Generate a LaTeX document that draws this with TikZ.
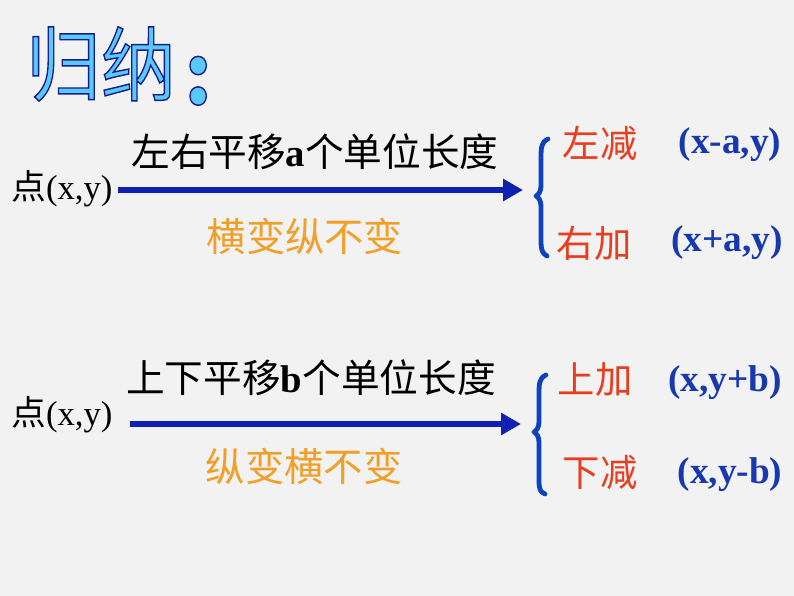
\documentclass[tikz,border=0pt]{standalone}
\usepackage{fontspec}
\setmainfont{Liberation Serif}
\newfontfamily\cjk{Noto Sans CJK SC}
\usetikzlibrary{arrows.meta}
\definecolor{bg}{RGB}{242,242,242}
\definecolor{redt}{RGB}{232,62,32}
\definecolor{oranget}{RGB}{240,160,40}
\definecolor{arrowblue}{RGB}{16,32,176}
\definecolor{formblue}{RGB}{24,56,176}
\definecolor{titlecyan}{RGB}{90,200,250}
\newcommand\outlineon{\special{pdf:literal direct 0.08 0.12 0.55 RG 1 w 2 Tr}}
\newcommand\outlineoff{\special{pdf:literal direct 0 Tr}}
\tikzset{
  pt/.style={inner sep=0pt, font=\fontsize{26}{30}\selectfont},
  desc/.style={inner sep=0pt, font=\cjk\fontsize{29}{32}\selectfont},
  rule/.style={inner sep=0pt, text=oranget, font=\cjk\fontsize{29.5}{32}\selectfont},
  dir/.style={inner sep=0pt, text=redt, font=\cjk\fontsize{28}{30}\selectfont},
  form/.style={inner sep=0pt, text=formblue, font=\bfseries\fontsize{28}{30}\selectfont},
  titlefont/.style={inner sep=0pt, yscale=1.08, text=titlecyan, font=\cjk\fontsize{56}{60}\selectfont},
  mainarrow/.style={draw=arrowblue, line width=4.5pt, -{Triangle[length=15pt,width=16pt]}},
  bracket/.style={draw=arrowblue!85!cyan, line width=3.6pt, line cap=round, line join=round}
}
\begin{document}
\begin{tikzpicture}[x=0.75pt,y=-0.75pt]
\fill[bg] (0,0) rectangle (794,596);
\useasboundingbox (0,0) rectangle (794,596);
% title
\node[titlefont, anchor=west] (title) at (26,66)
  {\outlineon 归纳\hspace{0.12em}\raisebox{-0.12em}{\bfseries\fontsize{58}{60}\selectfont :}\outlineoff};

% first group
\node[pt] (p1) at (62,189) {{\cjk 点}(x,y)};
\node[desc] (d1) at (315,152) {左右平移{\rmfamily\bfseries a}个单位长度};
\node[rule] (r1) at (305,236) {横变纵不变};
\coordinate (s1) at (118,190);
\coordinate (e1) at (523,190);
\draw[mainarrow] (s1) -- (e1);
\draw[bracket] (548,139) .. controls (541,142) and (541,148) .. (541,160)
  -- (541,186) .. controls (541,192) and (538,195) .. (536,196)
  .. controls (538,197) and (541,200) .. (541,206)
  -- (541,240) .. controls (541,250) and (542,253) .. (547,256);
\node[dir] (l1) at (600,143) {左减};
\node[form] (f1) at (730,145) {(x-a,y)};
\node[dir] (l2) at (594,243) {右加};
\node[form] (f2) at (727,243) {(x+a,y)};

% second group
\node[pt] (p2) at (62,415) {{\cjk 点}(x,y)};
\node[desc] (d2) at (311,378) {上下平移{\rmfamily\bfseries b}个单位长度};
\node[rule] (r2) at (304,466) {纵变横不变};
\coordinate (s2) at (130,424);
\coordinate (e2) at (521,424);
\draw[mainarrow] (s2) -- (e2);
\draw[bracket] (546,375) .. controls (539,378) and (539,384) .. (539,396)
  -- (539,422) .. controls (539,428) and (536,431) .. (534,432)
  .. controls (536,433) and (539,436) .. (539,442)
  -- (539,480) .. controls (539,489) and (540,492) .. (545,494);
\node[dir] (l3) at (595,380) {上加};
\node[form] (f3) at (725,383) {(x,y+b)};
\node[dir] (l4) at (600,472) {下减};
\node[form] (f4) at (730,475) {(x,y-b)};
\end{tikzpicture}
\end{document}
